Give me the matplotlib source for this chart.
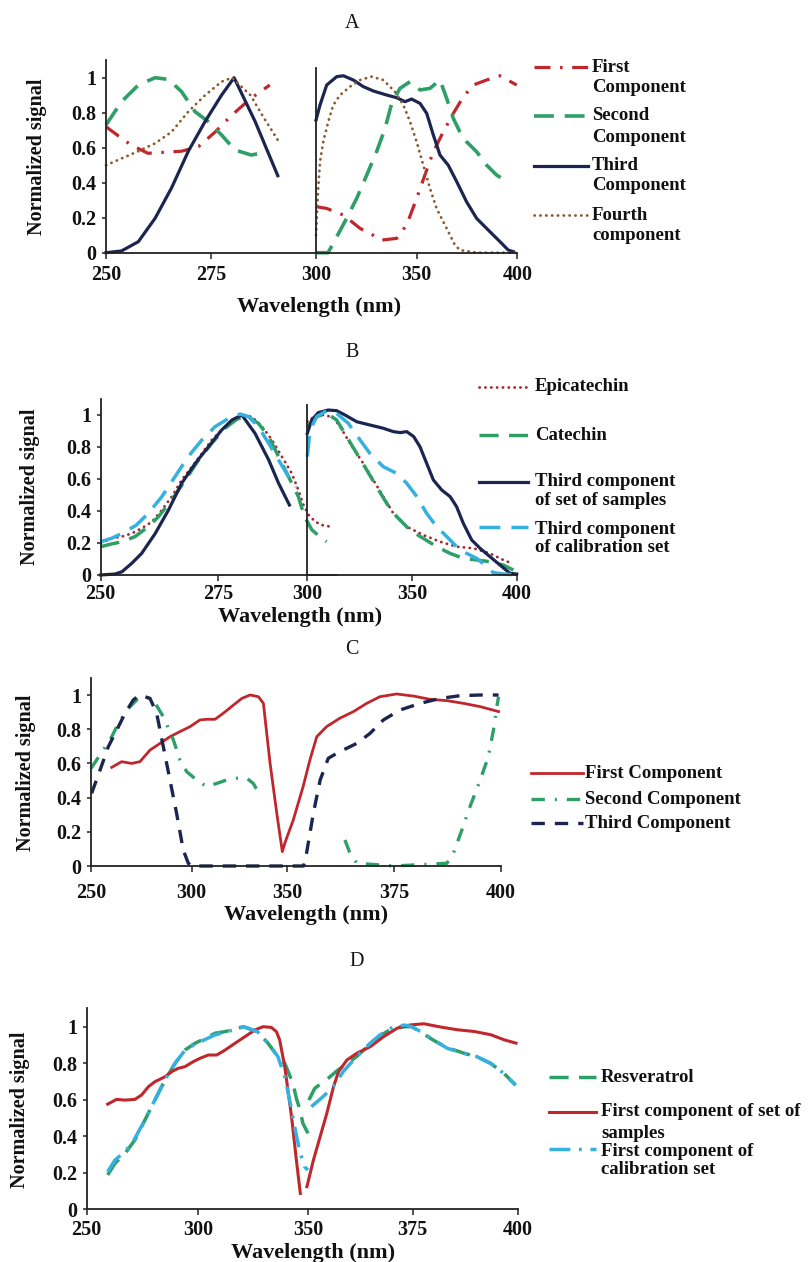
import numpy as np
import matplotlib
matplotlib.use("Agg")
import matplotlib.pyplot as plt
from matplotlib.lines import Line2D
from matplotlib.ticker import FuncFormatter

nan = float("nan")

# ---------------- DATA ----------------
# Panel A (left window 250-300 nm, right window 300-400 nm)
A_first_L_wl = [250, 253.7, 256, 260, 264, 268, 272, 276, 280, 284.4, 289]
A_first_L = [0.72, 0.654, 0.615, 0.568, 0.574, 0.58, 0.606, 0.69, 0.787, 0.88, 0.958]
A_second_L_wl = [250, 253.7, 257.7, 261.7, 264.9, 268, 271.2, 274.3, 277.5, 280.7, 284.6, 287.8]
A_second_L = [0.73, 0.863, 0.958, 1.0, 0.99, 0.92, 0.806, 0.75, 0.673, 0.587, 0.558, 0.574]
A_third_L_wl = [250, 253.7, 257.7, 261.7, 265.6, 269.6, 273.6, 277.5, 280.5, 285.5, 290.9]
A_third_L = [0.0, 0.01, 0.063, 0.197, 0.37, 0.58, 0.75, 0.90, 1.0, 0.75, 0.44]
A_fourth_L_wl = [250, 257.7, 261.7, 265.6, 269.6, 273.6, 277.5, 280, 284.4, 287.6, 291.4]
A_fourth_L = [0.50, 0.58, 0.625, 0.69, 0.806, 0.90, 0.977, 1.0, 0.90, 0.77, 0.625]

A_first_R_wl = [300, 305.3, 313.6, 321.9, 326.8, 332.6, 340.1, 345, 350, 354.1, 358.3, 363.2,
                368.2, 373.2, 378.1, 384.8, 391.4, 399.7]
A_first_R = [0.263, 0.253, 0.215, 0.139, 0.11, 0.072, 0.082, 0.158, 0.31, 0.444, 0.577, 0.69,
             0.796, 0.891, 0.958, 0.987, 1.011, 0.958]
A_second_R_wl = [300, 306, 310.3, 315.2, 320.2, 325.2, 330.1, 334.3, 337.6, 341.7, 346.7, 351.7,
                 356.6, 361.6, 364.9, 368.2, 371.5, 374.8, 379.8, 384.8, 389.7, 393]
A_second_R = [0.0, 0.0, 0.091, 0.196, 0.31, 0.444, 0.577, 0.71, 0.853, 0.939, 0.977, 0.93,
              0.939, 0.987, 0.882, 0.768, 0.69, 0.634, 0.577, 0.50, 0.444, 0.42]
A_third_R_wl = [300, 302, 305.3, 310.3, 313.6, 318.5, 323.5, 328.5, 335.1, 340, 344.2, 347.5,
                351.7, 355, 358.3, 361.6, 365.7, 369.9, 374.8, 379.8, 386.4, 391.4, 395.5, 398]
A_third_R = [0.758, 0.844, 0.958, 1.006, 1.011, 0.987, 0.949, 0.924, 0.901, 0.886, 0.863, 0.878,
             0.853, 0.796, 0.672, 0.558, 0.50, 0.406, 0.291, 0.196, 0.12, 0.063, 0.015, 0.006]
A_fourth_R_wl = [300, 301, 302, 303.6, 306.1, 308.6, 311.9, 316.9, 321.9, 327.6, 333.4, 339.2,
                 343.4, 346.7, 350, 353.3, 356.6, 359.9, 364.9, 369, 371.5, 380, 390, 400]
A_fourth_R = [0.1, 0.35, 0.52, 0.634, 0.749, 0.844, 0.90, 0.949, 0.987, 1.006, 0.987, 0.92,
              0.844, 0.749, 0.634, 0.50, 0.368, 0.253, 0.139, 0.044, 0.015, 0.0, 0.0, 0.0]

# Panel B
B_epi_L_wl = [250, 252.3, 254.5, 256.6, 258.7, 260.9, 263, 265.1, 267.2, 269.4, 271.5, 273.6,
              275.7, 277.9, 280.3, 282.1, 284.3, 286.4, 288.5, 290.6, 292, 293.1, 294.2, 295.6,
              297, 298.8]
B_epi_L = [0.198, 0.229, 0.24, 0.26, 0.292, 0.333, 0.406, 0.49, 0.594, 0.677, 0.76, 0.844,
           0.906, 0.958, 0.994, 0.99, 0.927, 0.844, 0.74, 0.635, 0.531, 0.4375, 0.375, 0.333,
           0.3125, 0.302]
B_cat_L_wl = [250, 252.3, 254.5, 257.3, 260.1, 262.3, 265.1, 268, 270.8, 273.6, 276.4, 278.9,
              281.1, 283.5, 285.7, 287.8, 289.9, 292, 293.3, 294.9, 297, 298]
B_cat_L = [0.177, 0.194, 0.208, 0.24, 0.302, 0.365, 0.469, 0.594, 0.719, 0.823, 0.917, 0.973,
           0.994, 0.948, 0.865, 0.74, 0.615, 0.49, 0.365, 0.281, 0.229, 0.208]
B_third_L_wl = [250, 253, 254.5, 256.6, 258.7, 261.6, 264.4, 267.2, 270.1, 272.9, 275.7, 277.9,
                280, 282.8, 285.7, 287.8, 290.1]
B_third_L = [0.0, 0.006, 0.02, 0.073, 0.135, 0.26, 0.406, 0.573, 0.698, 0.802, 0.906, 0.969,
             1.0, 0.885, 0.719, 0.573, 0.4375]
B_cal_L_wl = [250, 252.3, 254.5, 257.5, 260.1, 263, 265.8, 268.6, 271.5, 274.3, 277.2, 279.6,
              281.4, 283.5, 285.7, 287.8, 289.9, 291.5]
B_cal_L = [0.208, 0.229, 0.26, 0.31, 0.385, 0.49, 0.615, 0.74, 0.844, 0.927, 0.979, 1.006,
           0.99, 0.927, 0.823, 0.719, 0.615, 0.55]

B_epi_R_wl = [300, 304.5, 308, 312.4, 316, 320.4, 326.7, 331.5, 336.3, 341.1, 347.5, 355.4,
              363.4, 371.3, 379.3, 387.2, 393.6, 397.6]
B_epi_R = [0.958, 1.0, 1.0, 0.985, 0.92, 0.823, 0.698, 0.594, 0.49, 0.385, 0.302, 0.25,
           0.208, 0.177, 0.167, 0.135, 0.094, 0.073]
B_cat_R_wl = [300, 304.5, 309.3, 314, 318.8, 323.6, 328.4, 333.1, 337.9, 342.7, 349, 355.4,
              361.8, 368.2, 374.5, 380.9, 387.2, 393.6, 398.4]
B_cat_R = [0.927, 0.99, 1.01, 0.969, 0.865, 0.76, 0.656, 0.552, 0.448, 0.365, 0.281, 0.229,
           0.177, 0.135, 0.104, 0.094, 0.083, 0.0625, 0.031]
B_third_R_wl = [300, 302.1, 305.3, 310, 314, 318, 323.6, 329.9, 336.3, 341.1, 344.3, 347.5,
                350.8, 353.8, 357, 360.2, 364.2, 368.2, 371.3, 374.5, 378.5, 382.5, 387.2, 392,
                396.8, 400]
B_third_R = [0.885, 0.969, 1.015, 1.031, 1.027, 1.0, 0.958, 0.9375, 0.917, 0.896, 0.89, 0.896,
             0.865, 0.802, 0.698, 0.594, 0.531, 0.49, 0.427, 0.323, 0.219, 0.167, 0.115, 0.0625,
             0.0104, 0.006]
B_cal_R_wl = [300, 301.3, 304.5, 309.3, 314, 319.6, 325.2, 329.9, 336.3, 342.7, 347.5, 352.3,
              357, 361.8, 366.6, 371.3, 376.1, 380.9, 385.7, 388.8, 393.6, 400]
B_cal_R = [0.74, 0.906, 0.99, 1.027, 1.01, 0.948, 0.844, 0.76, 0.677, 0.635, 0.573, 0.49,
           0.385, 0.302, 0.24, 0.177, 0.135, 0.104, 0.052, 0.015, 0.006, 0.0]

# Panel C
C_first_wl = [260.3, 265.2, 270.2, 274.3, 279.3, 284.3, 289.2, 294.2, 299.2, 304.3, 307.8, 312.2,
              316.5, 321.7, 326.2, 330.5, 334.9, 337.5, 341, 344.5, 347.4, 348.9, 351.4, 353.7,
              355.3, 356.9, 359.2, 362.3, 365.5, 368.6, 371.7, 375.6, 379.5, 383.4, 387.4, 391.3,
              395.2, 399.5]
C_first = [0.577, 0.61, 0.60, 0.61, 0.678, 0.717, 0.756, 0.786, 0.815, 0.854, 0.858, 0.858,
           0.893, 0.94, 0.98, 1.0, 0.99, 0.951, 0.60, 0.308, 0.084, 0.14, 0.269, 0.464,
           0.62, 0.756, 0.815, 0.864, 0.903, 0.951, 0.99, 1.006, 0.994, 0.975, 0.967, 0.951,
           0.932, 0.903]
C_second_wl = [250, 252.8, 256.1, 260.3, 262.8, 267.7, 272.7, 276.8, 280.9, 285.9, 290.9, 294.2,
               297.5, 302.6, 307.8, 313.1, 318.3, 323.5, 328.8, 332.2, 335.7, nan, 363.5, 364.7,
               366.3, 375, 387.4, 388.9, 390.9, 392.8, 395.2, 397.1, 398.3, 399.1, 399.5]
C_second = [0.571, 0.62, 0.678, 0.756, 0.815, 0.912, 0.971, 0.99, 0.971, 0.873, 0.737, 0.62,
            0.552, 0.503, 0.464, 0.483, 0.503, 0.513, 0.513, 0.483, 0.415, nan, 0.152, 0.074,
            0.016, 0.0, 0.016, 0.074, 0.21, 0.347, 0.503, 0.639, 0.795, 0.932, 0.99]
C_third_wl = [250.3, 254.5, 258.6, 262.8, 266.9, 271, 274.3, 279.3, 282.6, 285.9, 289.2, 292.5,
              295.8, 298.3, 300, 353.8, 354.5, 356.1, 357.7, 359.6, 362.3, 366.3, 369.4, 372.5,
              376.4, 381.1, 385.8, 390.5, 395.2, 399.5]
C_third = [0.425, 0.561, 0.698, 0.795, 0.893, 0.971, 1.0, 0.98, 0.893, 0.698, 0.503, 0.308,
           0.094, 0.016, 0.0, 0.0, 0.074, 0.308, 0.503, 0.63, 0.669, 0.717, 0.776, 0.854,
           0.912, 0.951, 0.98, 0.996, 1.0, 1.0]

# Panel D
D_res_wl = [259.4, 262.7, 267.2, 271.6, 276.1, 280.6, 285.1, 289.6, 294, 298.5, 303.1, 307.6,
            312.2, 316.7, 320.5, 327, 331.8, 336.3, 339.4, 341.6, 343.1, 344.7, 346.2, 347.7,
            350, nan, 350.2, 351.6, 353.2, 354.8, 357, 361.6, 364.8, 367.2, 370.4, 373.2, 374.8,
            377.6, 380, 383.2, 387.2, 390.3, 393.5, 396.7, 399.5]
D_res = [0.188, 0.252, 0.306, 0.38, 0.489, 0.599, 0.708, 0.799, 0.872, 0.909, 0.936, 0.964,
         0.973, 0.986, 1.0, 0.973, 0.909, 0.836, 0.8, 0.735, 0.69, 0.608, 0.55, 0.47,
         0.416, nan, 0.598, 0.662, 0.69, 0.717, 0.76, 0.836, 0.905, 0.95, 0.995, 1.0, 1.0,
         0.96, 0.925, 0.885, 0.855, 0.835, 0.8, 0.745, 0.68]
D_first_wl = [259.4, 263.4, 267.2, 271.6, 274.6, 277.6, 280.6, 285.1, 288.1, 291, 294, 297.8,
              300.8, 304.6, 308.4, 312.2, 316.7, 321.2, 325.8, 329.5, 333.3, 335.6, 337.1, 339.4,
              342.5, 344.7, 346.5, nan, 349.5, 351.3, 352.9, 354.5, 356.1, 357.3, 359.3, 361.7,
              364.9, 368.1, 371.3, 374.5, 377.7, 381.7, 385.7, 389.6, 393.6, 396.8, 399.6]
D_first = [0.576, 0.602, 0.598, 0.602, 0.626, 0.671, 0.699, 0.726, 0.754, 0.772, 0.781, 0.809,
           0.827, 0.845, 0.845, 0.872, 0.909, 0.945, 0.982, 1.0, 0.996, 0.973, 0.927, 0.781,
           0.507, 0.27, 0.087, nan, 0.124, 0.27, 0.398, 0.526, 0.672, 0.754, 0.818, 0.855,
           0.891, 0.946, 0.992, 1.01, 1.016, 0.998, 0.983, 0.974, 0.956, 0.928, 0.91]
D_cal_wl = [259.4, 262.7, 267.2, 271.6, 276.1, 280.6, 285.1, 289.6, 294, 298.5, 303.1, 307.6,
            312.2, 316.7, 320.5, 327, 331.8, 336.3, 339.4, 341.6, 343.9, 346.1, 348.4, 350, nan,
            350.8, 353.6, 356, 358.4, 361.6, 364.8, 367.2, 370.4, 373.2, 374.8, 377.6, 380,
            383.2, 387.2, 390.3, 393.5, 396.7, 399.5]
D_cal = [0.206, 0.27, 0.316, 0.389, 0.49, 0.6, 0.71, 0.8, 0.87, 0.905, 0.93, 0.955,
         0.97, 0.985, 1.0, 0.973, 0.909, 0.836, 0.727, 0.599, 0.453, 0.325, 0.233, 0.215, nan,
         0.562, 0.617, 0.671, 0.754, 0.836, 0.909, 0.955, 1.0, 1.009, 1.0, 0.964, 0.927,
         0.882, 0.854, 0.836, 0.8, 0.744, 0.68]

Y_TICKS = [0, 0.2, 0.4, 0.6, 0.8, 1]
AB_LEFT_TICKS = [250, 275]
AB_RIGHT_TICKS = [300, 350, 400]
CD_TICKS = [250, 300, 350, 375, 400]

# ---------------- STYLE / LAYOUT ----------------
W, H, DPI = 808, 1262, 100
plt.rcParams["font.family"] = ["Liberation Serif", "DejaVu Serif"]
fig = plt.figure(figsize=(W / DPI, H / DPI), dpi=DPI)
fig.patch.set_facecolor("white")

NAVY = "#1b2550"
GREEN = "#2f9f68"
RED = "#c0272d"
BROWN = "#8c5a2e"
CYAN = "#35b0e0"
EPI = "#a3282f"

TICK_FS = 14.5
LEG_FS = 13.5
LAB_FS = 16
YLAB_FS = 14.5
TITLE_FS = 14.5

ST = {
    "A1": dict(color=RED, lw=2.3, ls=(0, (5, 3, 0.8, 3))),
    "A2": dict(color=GREEN, lw=2.6, ls=(0, (5.5, 3))),
    "A3": dict(color=NAVY, lw=2.3, ls="-"),
    "A4": dict(color=BROWN, lw=2.0, ls=(0, (0.1, 2.0)), dash_capstyle="round"),
    "Bepi": dict(color=EPI, lw=2.0, ls=(0, (0.1, 2.0)), dash_capstyle="round"),
    "Bcat": dict(color=GREEN, lw=2.5, ls=(0, (5.5, 3))),
    "B3": dict(color=NAVY, lw=2.3, ls="-"),
    "Bcal": dict(color=CYAN, lw=2.5, ls=(0, (6, 3.2))),
    "C1": dict(color=RED, lw=2.0, ls="-"),
    "C2": dict(color=GREEN, lw=2.4, ls=(0, (4, 3, 0.6, 3))),
    "C3": dict(color=NAVY, lw=2.4, ls=(0, (4, 3))),
    "Dres": dict(color=GREEN, lw=2.5, ls=(0, (5.5, 3))),
    "D1": dict(color=RED, lw=2.2, ls="-"),
    "Dcal": dict(color=CYAN, lw=2.5, ls=(0, (6, 2.5, 0.8, 2.5))),
}


def px_axes(x0, x1, ytop, ybot):
    return fig.add_axes([x0 / W, 1 - ybot / H, (x1 - x0) / W, (ybot - ytop) / H])


yfmt = FuncFormatter(lambda v, p: f"{v:g}")


def base_style(ax, show_y=True, xpad=4):
    ax.set_facecolor("none")
    for s in ("top", "right"):
        ax.spines[s].set_visible(False)
    for s in ("left", "bottom"):
        ax.spines[s].set_color("#222222")
        ax.spines[s].set_linewidth(1.3)
    ax.tick_params(axis="x", direction="out", length=4, width=1.1, color="#222222",
                   labelsize=TICK_FS, pad=xpad)
    if show_y:
        ax.set_yticks(Y_TICKS)
        ax.yaxis.set_major_formatter(yfmt)
        ax.tick_params(axis="y", direction="out", length=3, width=1.1, color="#222222",
                       labelsize=TICK_FS, pad=4)
    else:
        ax.set_yticks([])


def bold_ticks(ax):
    for lab in ax.get_xticklabels() + ax.get_yticklabels():
        lab.set_fontweight("bold")
        lab.set_color("#111111")


def piecewise(knots_wl, knots_px):
    kw = np.asarray(knots_wl, float)
    kp = np.asarray(knots_px, float)

    def make(a, b):
        def f(x):
            x = np.asarray(x, float)
            y = np.interp(x, a, b)
            y = np.where(x < a[0], b[0] + (x - a[0]) * (b[1] - b[0]) / (a[1] - a[0]), y)
            y = np.where(x > a[-1], b[-1] + (x - a[-1]) * (b[-1] - b[-2]) / (a[-1] - a[-2]), y)
            return y
        return f
    return make(kw, kp), make(kp, kw)


def legend(entries, x0, x1, xt):
    for style, lines_y, texts in entries:
        st = dict(style)
        fig.add_artist(Line2D([x0 / W, x1 / W], [1 - lines_y / H] * 2, transform=fig.transFigure,
                              color=st.pop("color"), lw=st.pop("lw"), ls=st.pop("ls"), **st))
        for y, t in texts:
            fig.text(xt / W, 1 - y / H, t, ha="left", va="center", fontsize=LEG_FS,
                     fontweight="bold", color="#111111")


def ftext(x, y, s, **kw):
    fig.text(x / W, 1 - y / H, s, ha="center", va="center", color="#111111", **kw)


# ---------------- PANEL A ----------------
yA0, sA = 252.7, 175.0
axAL = px_axes(106, 316, yA0 - 1.1 * sA, yA0)
axAL.set_xlim(250, 300)
axAL.set_ylim(0, 1.1)
axAL.set_xticks(AB_LEFT_TICKS)
base_style(axAL, xpad=4.5)
axAR = px_axes(316, 517.3, yA0 - 1.055 * sA, yA0)
axAR.set_xlim(300, 400)
axAR.set_ylim(0, 1.055)
axAR.set_xticks(AB_RIGHT_TICKS)
base_style(axAR, show_y=False, xpad=4.5)
for ax, pairs in ((axAL, [(A_first_L_wl, A_first_L, "A1"), (A_second_L_wl, A_second_L, "A2"),
                          (A_third_L_wl, A_third_L, "A3"), (A_fourth_L_wl, A_fourth_L, "A4")]),
                  (axAR, [(A_first_R_wl, A_first_R, "A1"), (A_second_R_wl, A_second_R, "A2"),
                          (A_third_R_wl, A_third_R, "A3"), (A_fourth_R_wl, A_fourth_R, "A4")])):
    for xw, yv, k in pairs:
        ax.plot(xw, yv, clip_on=False, **ST[k])
ftext(352, 23, "A", fontsize=TITLE_FS)
ftext(319, 307, "Wavelength (nm)", fontsize=LAB_FS, fontweight="bold")
ftext(37, 157, "Normalized signal", fontsize=YLAB_FS, fontweight="bold", rotation=90)
legend([(ST["A1"], 67, [(67, "First"), (87, "Component")]),
        (ST["A2"], 116, [(116, "Second"), (137, "Component")]),
        (ST["A3"], 166, [(166, "Third"), (186, "Component")]),
        (ST["A4"], 215, [(215, "Fourth"), (236, "component")])], 534, 588, 592)

# ---------------- PANEL B ----------------
yB0, sB = 575.0, 160.0
axBL = px_axes(100.7, 336, yB0 - 1.1 * sB, yB0)
axBL.set_xlim(250, 300)
axBL.set_ylim(0, 1.1)
axBL.set_xticks(AB_LEFT_TICKS)
base_style(axBL, xpad=2.5)
axBR = px_axes(307.3, 516.7, yB0 - 1.06 * sB, yB0)
axBR.set_xlim(300, 400)
axBR.set_ylim(0, 1.06)
axBR.set_xticks(AB_RIGHT_TICKS)
base_style(axBR, show_y=False, xpad=2.5)
for ax, pairs in ((axBL, [(B_epi_L_wl, B_epi_L, "Bepi"), (B_cat_L_wl, B_cat_L, "Bcat"),
                          (B_third_L_wl, B_third_L, "B3"), (B_cal_L_wl, B_cal_L, "Bcal")]),
                  (axBR, [(B_epi_R_wl, B_epi_R, "Bepi"), (B_cat_R_wl, B_cat_R, "Bcat"),
                          (B_third_R_wl, B_third_R, "B3"), (B_cal_R_wl, B_cal_R, "Bcal")])):
    for xw, yv, k in pairs:
        ax.plot(xw, yv, clip_on=False, **ST[k])
ftext(352, 352, "B", fontsize=TITLE_FS)
ftext(300, 617, "Wavelength (nm)", fontsize=LAB_FS, fontweight="bold")
ftext(30, 487, "Normalized signal", fontsize=YLAB_FS, fontweight="bold", rotation=90)
legend([(ST["Bepi"], 387, [(387, "Epicatechin")]),
        (ST["Bcat"], 435, [(435, "Catechin")]),
        (ST["B3"], 482, [(482, "Third component"), (500, "of set of samples")]),
        (ST["Bcal"], 527, [(529, "Third component"), (547, "of calibration set")])],
       479, 528, 535)

# ---------------- PANEL C ----------------
yC0, sC = 866.0, 171.0
axC = px_axes(91, 500.7, yC0 - 1.1 * sC, yC0)
fC, iC = piecewise(CD_TICKS, [91, 191.7, 287.3, 394, 500.7])
axC.set_xscale("function", functions=(fC, iC))
axC.set_xlim(250, 400)
axC.set_ylim(0, 1.1)
axC.set_xticks(CD_TICKS)
axC.xaxis.set_major_formatter(FuncFormatter(lambda v, p: f"{v:g}"))
axC.xaxis.set_minor_locator(matplotlib.ticker.NullLocator())
base_style(axC, xpad=8)
for xw, yv, k in ((C_first_wl, C_first, "C1"), (C_second_wl, C_second, "C2"),
                  (C_third_wl, C_third, "C3")):
    axC.plot(xw, yv, clip_on=False, **ST[k])
ftext(352, 650, "C", fontsize=TITLE_FS)
ftext(306, 915, "Wavelength (nm)", fontsize=LAB_FS, fontweight="bold")
ftext(26, 773, "Normalized signal", fontsize=YLAB_FS, fontweight="bold", rotation=90)
legend([(ST["C1"], 773, [(773, "First Component")]),
        (ST["C2"], 799, [(799, "Second Component")]),
        (ST["C3"], 823, [(823, "Third Component")])], 531, 583, 585)

# ---------------- PANEL D ----------------
yD0, sD = 1209.3, 182.6
axD = px_axes(86.7, 517.7, yD0 - 1.1 * sD, yD0)
fD, iD = piecewise(CD_TICKS, [86.7, 198.3, 308.0, 412.7, 517.7])
axD.set_xscale("function", functions=(fD, iD))
axD.set_xlim(250, 400)
axD.set_ylim(0, 1.1)
axD.set_xticks(CD_TICKS)
axD.xaxis.set_major_formatter(FuncFormatter(lambda v, p: f"{v:g}"))
axD.xaxis.set_minor_locator(matplotlib.ticker.NullLocator())
base_style(axD, xpad=4)
for xw, yv, k in ((D_res_wl, D_res, "Dres"), (D_first_wl, D_first, "D1"),
                  (D_cal_wl, D_cal, "Dcal")):
    axD.plot(xw, yv, clip_on=False, **ST[k])
ftext(357, 962, "D", fontsize=TITLE_FS)
ftext(313, 1253, "Wavelength (nm)", fontsize=LAB_FS, fontweight="bold")
ftext(20, 1110, "Normalized signal", fontsize=YLAB_FS, fontweight="bold", rotation=90)
legend([(ST["Dres"], 1077, [(1077, "Resveratrol")]),
        (ST["D1"], 1112, [(1112, "First component of set of"), (1133, "samples")]),
        (ST["Dcal"], 1149, [(1151, "First component of"), (1170, "calibration set")])],
       549, 596, 601)

for ax in (axAL, axAR, axBL, axBR, axC, axD):
    bold_ticks(ax)

fig.savefig("out.png", dpi=DPI, facecolor="white")
